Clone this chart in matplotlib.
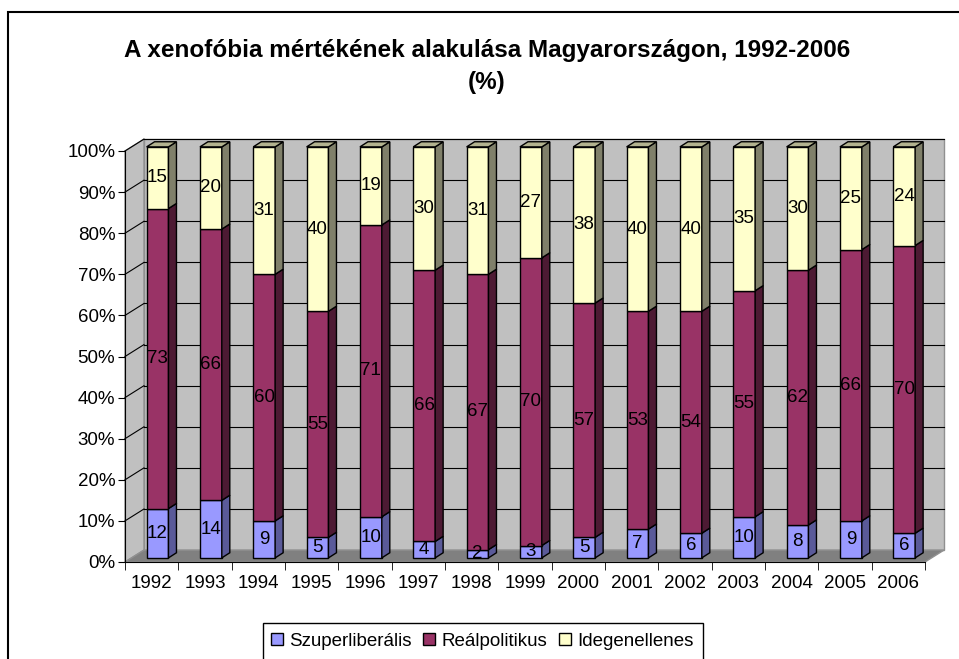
import matplotlib.pyplot as plt
from matplotlib.patches import Polygon, Rectangle, Patch

plt.rcParams["font.family"] = ["Liberation Sans", "DejaVu Sans"]

# ----------------------------
# Data
# ----------------------------
years = ["1992", "1993", "1994", "1995", "1996", "1997", "1998", "1999",
         "2000", "2001", "2002", "2003", "2004", "2005", "2006"]
szuperliberalis = [12, 14, 9, 5, 10, 4, 2, 3, 5, 7, 6, 10, 8, 9, 6]
realpolitikus = [73, 66, 60, 55, 71, 66, 67, 70, 57, 53, 54, 55, 62, 66, 70]
idegenellenes = [15, 20, 31, 40, 19, 30, 31, 27, 38, 40, 40, 35, 30, 25, 24]

series_names = ["Szuperliberális", "Reálpolitikus", "Idegenellenes"]
front_colors = ["#9999FF", "#993366", "#FFFFCC"]
side_colors = ["#5A5A99", "#4D1A33", "#80806A"]
top_colors = ["#7A7ACC", "#7A2952", "#B3B38F"]

# ----------------------------
# Layout (3D-ish look)
# ----------------------------
W, H = 959, 659
fig = plt.figure(figsize=(W / 100, H / 100), dpi=100)
ax = fig.add_axes([125 / W, (H - 562) / H, 800 / W, 411 / H])
n = len(years)
ax.set_xlim(-0.5, n - 0.5)
ax.set_ylim(0, 100)
ax.patch.set_visible(False)

wdx, wdy = 0.356, 2.9      # wall depth
boff_x, boff_y = 0.11, 1.0  # bar front offset
bw = 0.41                   # bar width
bdx, bdy = 0.15, 1.25       # bar depth

x0, x1 = -0.5, n - 0.5
# back wall
ax.add_patch(Polygon([(x0 + wdx, wdy), (x1 + wdx, wdy), (x1 + wdx, 100 + wdy), (x0 + wdx, 100 + wdy)],
                     closed=True, facecolor="#C0C0C0", edgecolor="#909090", lw=1, zorder=1, clip_on=False))
# side wall
ax.add_patch(Polygon([(x0, 0), (x0 + wdx, wdy), (x0 + wdx, 100 + wdy), (x0, 100)],
                     closed=True, facecolor="#C0C0C0", edgecolor="#909090", lw=1, zorder=1, clip_on=False))
# floor
ax.add_patch(Polygon([(x0, 0), (x1, 0), (x1 + wdx, wdy), (x0 + wdx, wdy)],
                     closed=True, facecolor="#808080", edgecolor="#909090", lw=1, zorder=1, clip_on=False))

# gridlines
for v in range(10, 101, 10):
    ax.plot([x0 + wdx, x1 + wdx], [v + wdy, v + wdy], color="black", lw=0.8, zorder=2, clip_on=False)
    ax.plot([x0, x0 + wdx], [v, v + wdy], color="black", lw=0.8, zorder=2, clip_on=False)

# bars
data = [szuperliberalis, realpolitikus, idegenellenes]
for i in range(n):
    left = i + boff_x - bw / 2
    right = left + bw
    bottom = boff_y
    for s, vals in enumerate(data):
        v = vals[i]
        top = bottom + v
        ax.add_patch(Polygon([(left, bottom), (right, bottom), (right, top), (left, top)],
                             closed=True, facecolor=front_colors[s], edgecolor="black",
                             lw=1, zorder=3, clip_on=False))
        ax.add_patch(Polygon([(right, bottom), (right + bdx, bottom + bdy),
                              (right + bdx, top + bdy), (right, top)],
                             closed=True, facecolor=side_colors[s], edgecolor="black",
                             lw=1, zorder=3, clip_on=False))
        if s == len(data) - 1:
            ax.add_patch(Polygon([(left, top), (right, top), (right + bdx, top + bdy),
                                  (left + bdx, top + bdy)],
                                 closed=True, facecolor=top_colors[s], edgecolor="black",
                                 lw=1, zorder=3, clip_on=False))
        ax.text((left + right) / 2, bottom + v / 2, str(v), ha="center", va="center",
                fontsize=13.5, zorder=4)
        bottom = top

# axes / ticks
for sp in ["top", "right"]:
    ax.spines[sp].set_visible(False)
ax.spines["left"].set_zorder(5)
ax.spines["bottom"].set_zorder(5)
ax.set_yticks(range(0, 101, 10))
ax.set_yticklabels([f"{v}%" for v in range(0, 101, 10)], fontsize=13.5)
ax.set_xticks(range(n))
ax.set_xticklabels(years, fontsize=13.5)
ax.tick_params(axis="x", which="major", length=0, pad=9)
ax.set_xticks([k - 0.5 for k in range(n + 1)], minor=True)
ax.tick_params(axis="x", which="minor", length=6, direction="out")
ax.tick_params(axis="y", length=5, direction="out", pad=2)

# title
fig.text(487 / W, 1 - 57 / H, "A xenofóbia mértékének alakulása Magyarországon, 1992-2006",
         ha="center", va="baseline", fontsize=17.5, fontweight="bold")
fig.text(487 / W, 1 - 83 / H, "(%)", ha="center", va="center", fontsize=17.5, fontweight="bold")

# legend
handles = [Patch(facecolor=c, edgecolor="black", label=lab) for c, lab in zip(front_colors, series_names)]
leg = fig.legend(handles=handles, loc="center", bbox_to_anchor=(482 / W, 1 - 641 / H),
                 ncol=3, frameon=False, fontsize=13.5, handlelength=0.64, handleheight=0.64,
                 handletextpad=0.32, columnspacing=0.64, borderpad=0.0)
fig.canvas.draw()
bb = leg.get_window_extent()
fig.patches.append(Rectangle((bb.x0 - 8, -10), bb.width + 18, (H - 623) + 10,
                             transform=None, fill=False, edgecolor="black", lw=1))

# outer chart border
fig.patches.append(Rectangle((8 / W, -0.1), 2, (H - 12) / H + 0.1, transform=fig.transFigure,
                             fill=False, edgecolor="black", lw=1.5))

fig.savefig("out.png", dpi=100)
